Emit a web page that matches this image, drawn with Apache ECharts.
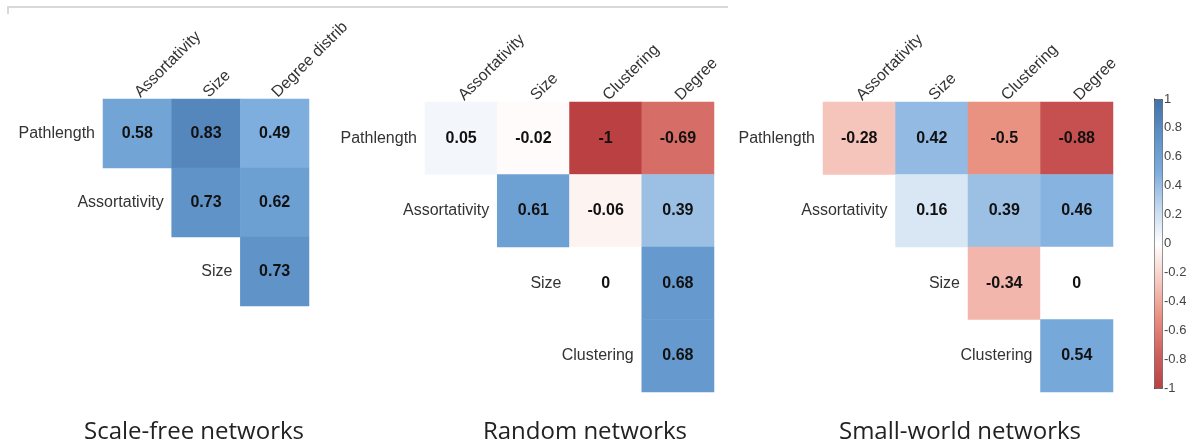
<!DOCTYPE html>
<html>
<head>
<meta charset="utf-8">
<script src="https://cdn.jsdelivr.net/npm/echarts@6/dist/echarts.min.js"></script>
<style>
html,body{margin:0;padding:0;background:#fff;}
#chart{width:1203px;height:448px;}
</style>
</head>
<body>
<div id="chart"></div>
<script>
// ---- data ----
const sfCols = ['Assortativity', 'Size', 'Degree distrib'];
const sfRows = ['Pathlength', 'Assortativity', 'Size'];
const sfValues = [
  [0.58, 0.83, 0.49],
  [null, 0.73, 0.62],
  [null, null, 0.73]
];
const rnCols = ['Assortativity', 'Size', 'Clustering', 'Degree'];
const rnRows = ['Pathlength', 'Assortativity', 'Size', 'Clustering'];
const rnValues = [
  [0.05, -0.02, -1, -0.69],
  [null, 0.61, -0.06, 0.39],
  [null, null, 0, 0.68],
  [null, null, null, 0.68]
];
const swCols = ['Assortativity', 'Size', 'Clustering', 'Degree'];
const swRows = ['Pathlength', 'Assortativity', 'Size', 'Clustering'];
const swValues = [
  [-0.28, 0.42, -0.5, -0.88],
  [null, 0.16, 0.39, 0.46],
  [null, null, -0.34, 0],
  [null, null, null, 0.54]
];
const panelTitles = ['Scale-free networks', 'Random networks', 'Small-world networks'];
const colorMin = -1, colorMax = 1, colorStep = 0.2;

// ---- build ----
const panels = [
  {cols: sfCols, rows: sfRows, values: sfValues, grid: {left: 103, top: 99, width: 206, height: 207}, titleX: 194},
  {cols: rnCols, rows: rnRows, values: rnValues, grid: {left: 425, top: 102, width: 289, height: 290}, titleX: 585},
  {cols: swCols, rows: swRows, values: swValues, grid: {left: 823, top: 102, width: 290, height: 290}, titleX: 960}
];
const labelFont = 'Liberation Sans, Arial, sans-serif';

const grids = [], xAxes = [], yAxes = [], series = [];
panels.forEach((p, k) => {
  grids.push(Object.assign({containLabel: false}, p.grid));
  xAxes.push({
    type: 'category', gridIndex: k, data: p.cols, position: 'top',
    axisLine: {show: false}, axisTick: {show: false}, splitLine: {show: false},
    axisLabel: {interval: 0, rotate: -45, margin: 4, fontSize: 16, color: '#333', fontFamily: labelFont}
  });
  yAxes.push({
    type: 'category', gridIndex: k, data: p.rows, inverse: true,
    axisLine: {show: false}, axisTick: {show: false}, splitLine: {show: false},
    axisLabel: {show: false}
  });
});
panels.forEach((p, k) => {
  const data = [];
  p.values.forEach((row, r) => row.forEach((v, c) => { if (v !== null) data.push([c, r, v]); }));
  series.push({
    type: 'heatmap', xAxisIndex: k, yAxisIndex: k, data: data,
    itemStyle: {borderWidth: 0},
    label: {show: true, fontSize: 16, fontWeight: 'bold', color: '#111', fontFamily: labelFont,
      formatter: (pr) => String(pr.value[2])},
    emphasis: {disabled: true}
  });
});
panels.forEach((p, k) => {
  series.push({
    type: 'custom', xAxisIndex: k, yAxisIndex: k, silent: true,
    data: p.rows.map((r, i) => [i, i]),
    renderItem: (params, api) => {
      const c = api.coord([api.value(0), api.value(1)]);
      const w = api.size([1, 1])[0];
      return {
        type: 'text', x: c[0] - w / 2 - 8, y: c[1],
        style: {text: p.rows[params.dataIndex], align: 'right', verticalAlign: 'middle',
          fontSize: 16, fill: '#333', fontFamily: labelFont}
      };
    }
  });
});
// colorbar axis
grids.push({left: 1154, top: 99, width: 8, height: 289});
xAxes.push({type: 'value', gridIndex: 3, show: false, min: 0, max: 1});
yAxes.push({
  type: 'value', gridIndex: 3, position: 'right', min: colorMin, max: colorMax, interval: colorStep,
  axisLine: {show: true, lineStyle: {color: '#333', width: 1}},
  axisTick: {show: true, length: 3, lineStyle: {color: '#333'}},
  splitLine: {show: false},
  axisLabel: {margin: 2, fontSize: 13, color: '#444', fontFamily: labelFont}
});

const option = {
  animation: false,
  backgroundColor: '#fff',
  grid: grids, xAxis: xAxes, yAxis: yAxes,
  visualMap: {
    type: 'continuous', min: colorMin, max: colorMax, seriesIndex: [0, 1, 2],
    calculable: false, show: true, orient: 'vertical',
    left: 1154, top: 99, itemWidth: 8, itemHeight: 289, padding: 0,
    borderColor: '#555', borderWidth: 1, hoverLink: false,
    inRange: {color: ['#BB4042', '#D0625E', '#EA9282', '#F6CBC3', '#FFFFFF', '#C4D9EE', '#7BACDD', '#5E92C7', '#4271A8']}
  },
  graphic: [
    {type: 'polyline', silent: true, shape: {points: [[8, 14], [8, 7], [728, 7]]}, style: {stroke: '#d9d9d9', lineWidth: 2, fill: null}},
    ...panels.map((p, k) => ({
      type: 'text', x: p.titleX, y: 432, silent: true,
      style: {text: panelTitles[k], align: 'center', verticalAlign: 'middle', fontSize: 24, fill: '#222', fontFamily: 'Open Sans, Noto Sans, sans-serif'}
    }))
  ],
  series: series
};
const chart = echarts.init(document.getElementById('chart'), null, {renderer: 'canvas'});
chart.setOption(option);
</script>
</body>
</html>
